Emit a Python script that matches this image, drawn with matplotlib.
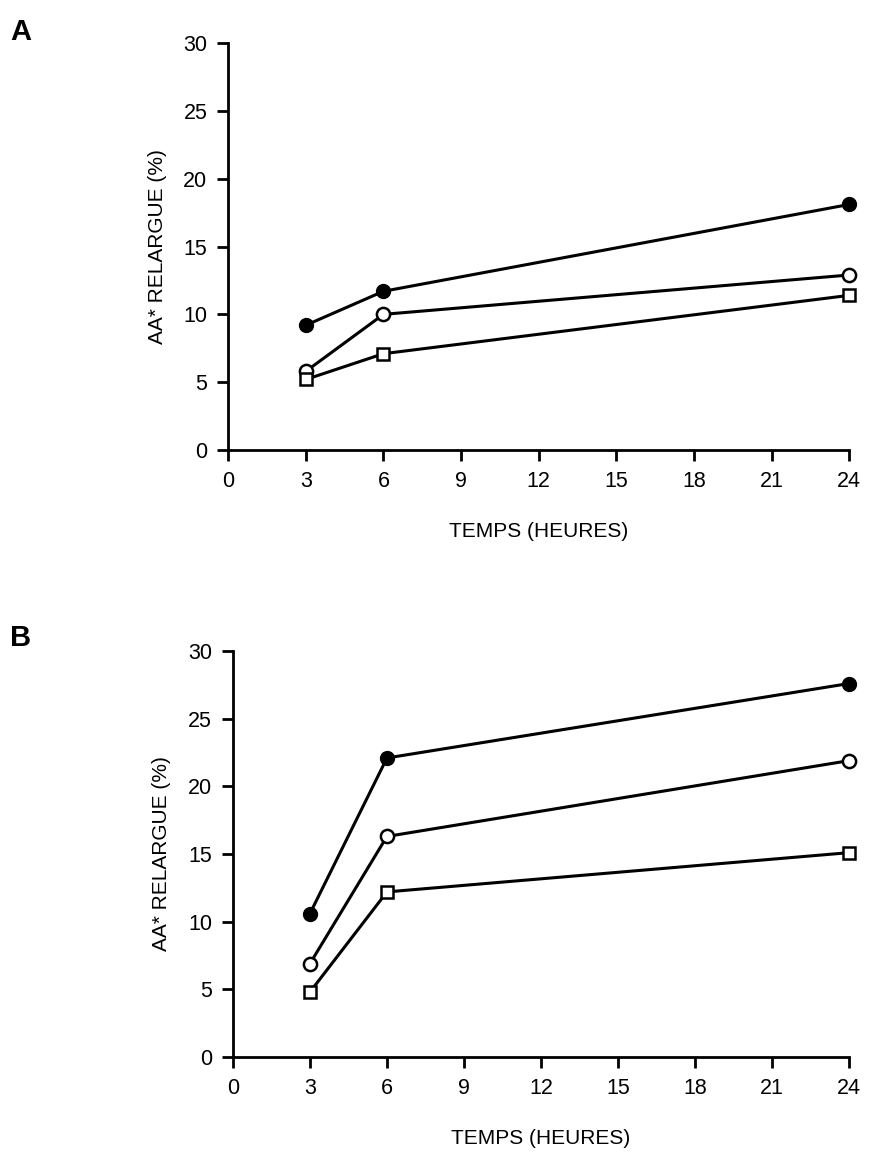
import matplotlib.pyplot as plt

# time points (hours)
temps = [3, 6, 24]

# panel A values (% released)
a_plein = [9.2, 11.7, 18.1]
a_cercle = [5.8, 10.0, 12.9]
a_carre = [5.2, 7.1, 11.4]

# panel B values
b_plein = [10.6, 22.1, 27.6]
b_cercle = [6.9, 16.3, 21.9]
b_carre = [4.8, 12.2, 15.1]

x_ticks = [0, 3, 6, 9, 12, 15, 18, 21, 24]
y_ticks = [0, 5, 10, 15, 20, 25, 30]

plt.rcParams['font.family'] = ['Liberation Sans', 'DejaVu Sans']

fig = plt.figure(figsize=(8.71, 11.53), dpi=100)
axA = fig.add_axes([0.262, 0.6097, 0.713, 0.353])
axB = fig.add_axes([0.2675, 0.0833, 0.707, 0.352])


def draw(ax, plein, cercle, carre):
    style = dict(color='black', lw=2.2, clip_on=False, zorder=3)
    ax.plot(temps, plein, marker='o', ms=10, mfc='black', mec='black', **style)
    ax.plot(temps, cercle, marker='o', ms=9.5, mfc='white', mec='black', mew=1.8, **style)
    ax.plot(temps, carre, marker='s', ms=9, mfc='white', mec='black', mew=1.8, **style)
    ax.set_xlim(0, 24)
    ax.set_ylim(0, 30)
    ax.set_xticks(x_ticks)
    ax.set_yticks(y_ticks)
    for s in ['top', 'right']:
        ax.spines[s].set_visible(False)
    for s in ['left', 'bottom']:
        ax.spines[s].set_linewidth(2)
    ax.tick_params(width=2, length=8, labelsize=15.5, pad=7)
    ax.set_ylabel('AA* RELARGUE (%)', fontsize=15, labelpad=12)
    ax.set_xlabel('TEMPS (HEURES)', fontsize=15, labelpad=22)


draw(axA, a_plein, a_cercle, a_carre)
draw(axB, b_plein, b_cercle, b_carre)

fig.text(0.012, 0.972, 'A', fontsize=21, fontweight='bold', va='center')
fig.text(0.012, 0.447, 'B', fontsize=21, fontweight='bold', va='center')

fig.savefig('out.png', dpi=100)
